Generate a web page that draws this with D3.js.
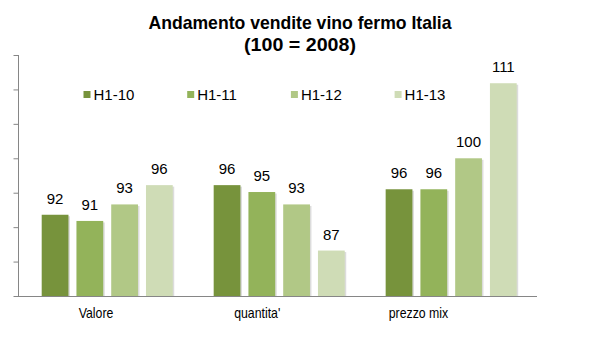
<!DOCTYPE html>
<html><head><meta charset="utf-8">
<script src="https://cdn.jsdelivr.net/npm/d3@7"></script>
<style>body{margin:0;background:#fff}svg{display:block}</style>
</head><body>
<script>
const categories = ["Valore", "quantita'", "prezzo mix"];
const seriesNames = ["H1-10", "H1-11", "H1-12", "H1-13"];
const valH110 = [91.8, 96.1, 95.5];
const valH111 = [90.9, 95.1, 95.5];
const valH112 = [93.3, 93.3, 100.0];
const valH113 = [96.1, 86.6, 110.9];
const yTicks = [80, 85, 90, 95, 100, 105, 110, 115];
const colors = ["#77933C", "#93B35A", "#B1C886", "#CFDCB6"];
const titleLines = ["Andamento vendite vino fermo Italia", "(100 = 2008)"];

const series = [valH110, valH111, valH112, valH113];
const W = 601, H = 342;
const svg = d3.select("body").append("svg").attr("width", W).attr("height", H);

const x0 = d3.scaleBand().domain(categories).range([21.4, 537]).paddingInner(0.238).paddingOuter(0.118);
const x1 = d3.scaleBand().domain(seriesNames).range([0, x0.bandwidth()]).paddingInner(0.23);
const y = d3.scaleLinear().domain([80, 115]).range([296, 55]);
const xLabel = d3.scalePoint().domain(categories).range([96, 418.5]);

// y axis
const yAxis = d3.axisLeft(y).tickValues(yTicks).tickSize(5).tickFormat("");
const gy = svg.append("g").attr("transform", "translate(18.5,0)").call(yAxis);
gy.selectAll("path,line").attr("stroke", "#868686");
gy.select(".domain").attr("d", "M0," + y(115) + "V" + y(80) + "H0");

// bars
const data = [];
categories.forEach((c, i) => seriesNames.forEach((s, j) => data.push({c, s, j, v: series[j][i]})));
const g = svg.append("g");
g.selectAll("rect.sh").data(data).join("rect").attr("class", "sh")
  .attr("x", d => x0(d.c) + x1(d.s) + 1.5)
  .attr("y", d => y(d.v) + 1.5)
  .attr("width", x1.bandwidth())
  .attr("height", d => y(80) - y(d.v) - 1.5)
  .attr("fill", "#dcdcdc");
g.selectAll("rect.bar").data(data).join("rect").attr("class", "bar")
  .attr("x", d => x0(d.c) + x1(d.s))
  .attr("y", d => y(d.v))
  .attr("width", x1.bandwidth())
  .attr("height", d => y(80) - y(d.v))
  .attr("fill", d => colors[d.j]);
g.selectAll("text.lbl").data(data).join("text").attr("class", "lbl")
  .attr("x", d => x0(d.c) + x1(d.s) + x1.bandwidth() / 2)
  .attr("y", d => y(d.v) - 11)
  .attr("text-anchor", "middle")
  .attr("font-family", "Liberation Sans, Arial, sans-serif")
  .attr("font-size", 15).attr("fill", "#000")
  .text(d => Math.round(d.v));

// x axis line
svg.append("line").attr("x1", 18).attr("x2", 537).attr("y1", 296.5).attr("y2", 296.5)
  .attr("stroke", "#868686").attr("stroke-width", 1);

// category labels (narrow)
const cats = svg.selectAll("text.cat").data(categories).join("text").attr("class", "cat")
  .attr("x", d => xLabel(d)).attr("y", 318)
  .attr("text-anchor", "middle")
  .attr("font-family", "Liberation Sans, Arial, sans-serif")
  .attr("font-size", 15).attr("fill", "#000")
  .text(d => d);
cats.each(function() {
  const w = this.getComputedTextLength();
  d3.select(this).attr("textLength", w * 0.82).attr("lengthAdjust", "spacingAndGlyphs");
});

// legend
const lg = svg.selectAll("g.leg").data(seriesNames).join("g").attr("class", "leg")
  .attr("transform", (d, i) => `translate(${83.5 + i * 103.7},0)`);
lg.append("rect").attr("x", 0).attr("y", 91).attr("width", 7).attr("height", 7)
  .attr("fill", (d, i) => colors[i]);
lg.append("text").attr("x", 10).attr("y", 99.5)
  .attr("font-family", "Liberation Sans, Arial, sans-serif")
  .attr("font-size", 15).attr("fill", "#000").text(d => d);

// title
svg.append("text").attr("x", 300).attr("y", 28.5).attr("text-anchor", "middle")
  .attr("font-family", "Liberation Sans, Arial, sans-serif").attr("font-weight", "bold")
  .attr("font-size", 18.5).attr("textLength", 303).attr("lengthAdjust", "spacingAndGlyphs")
  .text(titleLines[0]);
svg.append("text").attr("x", 300).attr("y", 51).attr("text-anchor", "middle")
  .attr("font-family", "Liberation Sans, Arial, sans-serif").attr("font-weight", "bold")
  .attr("font-size", 18.5).attr("textLength", 112).attr("lengthAdjust", "spacingAndGlyphs")
  .text(titleLines[1]);
</script>
</body></html>
